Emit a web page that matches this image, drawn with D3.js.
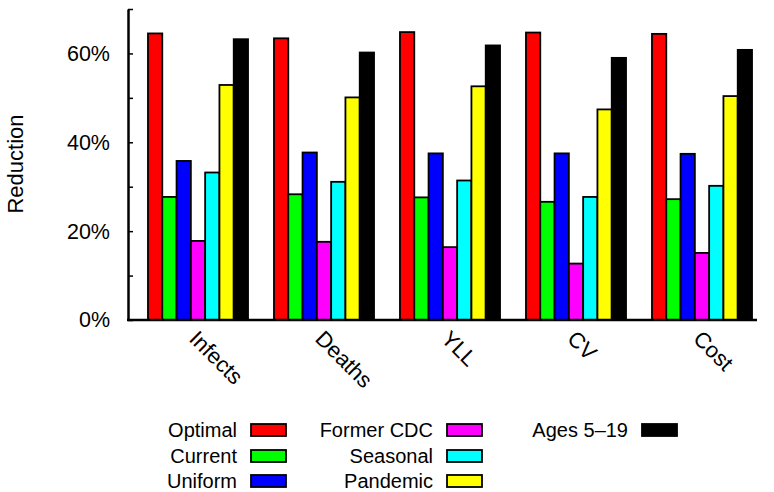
<!DOCTYPE html>
<meta charset="utf-8">
<style>
    body { margin: 0; background: white; }
    text { font-family: "Liberation Sans", Arial, sans-serif; fill: black; }
</style>
<body>
    <script src="https://d3js.org/d3.v7.min.js"></script>
    <script>
        var width = 774,
            height = 492;

        // chart data
        var categories = ["Infects", "Deaths", "YLL", "CV", "Cost"];
        var series = ["Optimal", "Current", "Uniform", "Former CDC", "Seasonal", "Pandemic", "Ages 5\u201319"];
        var colors = ["#ff0000", "#00ff00", "#0000ff", "#ff00ff", "#00ffff", "#ffff00", "#000000"];
        var optimal   = [64.5, 63.4, 64.8, 64.7, 64.4];
        var current   = [27.7, 28.3, 27.6, 26.6, 27.2];
        var uniform   = [35.8, 37.7, 37.5, 37.5, 37.4];
        var formerCdc = [17.8, 17.6, 16.4, 12.7, 15.1];
        var seasonal  = [33.2, 31.1, 31.4, 27.7, 30.2];
        var pandemic  = [52.9, 50.1, 52.6, 47.4, 50.4];
        var ages5to19 = [63.2, 60.2, 61.8, 59.0, 60.8];
        var yTicks = [0, 10, 20, 30, 40, 50, 60, 70];
        var yTickLabels = ["0%", "", "20%", "", "40%", "", "60%", ""];

        var values = [optimal, current, uniform, formerCdc, seasonal, pandemic, ages5to19];

        var svg = d3.select("body").append("svg")
            .attr("width", width)
            .attr("height", height);

        var x0 = d3.scaleBand()
            .domain(categories)
            .range([135, 765])
            .paddingInner(0.206)
            .paddingOuter(0.103);

        var x1 = d3.scaleBand()
            .domain(d3.range(series.length))
            .range([0, x0.bandwidth()]);

        var y = d3.scaleLinear()
            .domain([0, 70])
            .range([320, 9]);

        // bars
        var groups = svg.selectAll("g.group")
            .data(categories)
            .enter().append("g")
            .attr("class", "group")
            .attr("transform", function(d) { return "translate(" + x0(d) + ",0)"; });

        groups.selectAll("rect")
            .data(function(d, i) {
                return values.map(function(v, s) { return {s: s, v: v[i]}; });
            })
            .enter().append("rect")
            .attr("x", function(d) { return x1(d.s); })
            .attr("y", function(d) { return y(d.v); })
            .attr("width", x1.bandwidth())
            .attr("height", function(d) { return y(0) - y(d.v); })
            .style("fill", function(d) { return colors[d.s]; })
            .style("stroke", "black")
            .style("stroke-width", 1.8);

        // y axis, ticks pointing inward
        var yAxis = d3.axisLeft(y)
            .tickValues(yTicks)
            .tickSizeInner(-5)
            .tickSizeOuter(0)
            .tickPadding(18)
            .tickFormat(function(d, i) { return yTickLabels[i]; });

        var ay = svg.append("g")
            .attr("transform", "translate(128,0)")
            .call(yAxis);
        ay.select(".domain").attr("stroke-width", 2.5);
        ay.selectAll(".tick line").attr("stroke-width", 1.5);
        ay.selectAll("text")
            .style("font-family", "'Liberation Sans', Arial, sans-serif")
            .style("font-size", "21.5px");

        // x axis line
        svg.append("line")
            .attr("x1", 127).attr("x2", 757)
            .attr("y1", y(0)).attr("y2", y(0))
            .style("stroke", "black")
            .style("stroke-width", 2.5);

        // category labels, rotated
        svg.selectAll("text.cat")
            .data(categories)
            .enter().append("text")
            .attr("class", "cat")
            .attr("transform", function(d) {
                return "translate(" + (x0(d) + x0.bandwidth() / 2 - 10) + ",340) rotate(45)";
            })
            .style("font-size", "22px")
            .text(function(d) { return d; });

        // y label
        svg.append("text")
            .attr("transform", "translate(23,164) rotate(-90)")
            .attr("text-anchor", "middle")
            .style("font-size", "22px")
            .text("Reduction");

        // legend
        var legendCols = [237, 433, 628];
        var legendRows = [430, 456, 481];
        var legend = svg.selectAll("g.legend")
            .data(series)
            .enter().append("g")
            .attr("class", "legend")
            .attr("transform", function(d, i) {
                return "translate(" + legendCols[Math.floor(i / 3)] + "," + legendRows[i % 3] + ")";
            });

        legend.append("text")
            .attr("text-anchor", "end")
            .attr("dy", "0.35em")
            .style("font-size", "20px")
            .text(function(d) { return d; });

        legend.append("rect")
            .attr("x", 14)
            .attr("y", -6)
            .attr("width", 35)
            .attr("height", 12)
            .style("fill", function(d, i) { return colors[i]; })
            .style("stroke", "black")
            .style("stroke-width", 1.8);
    </script>
</body>
